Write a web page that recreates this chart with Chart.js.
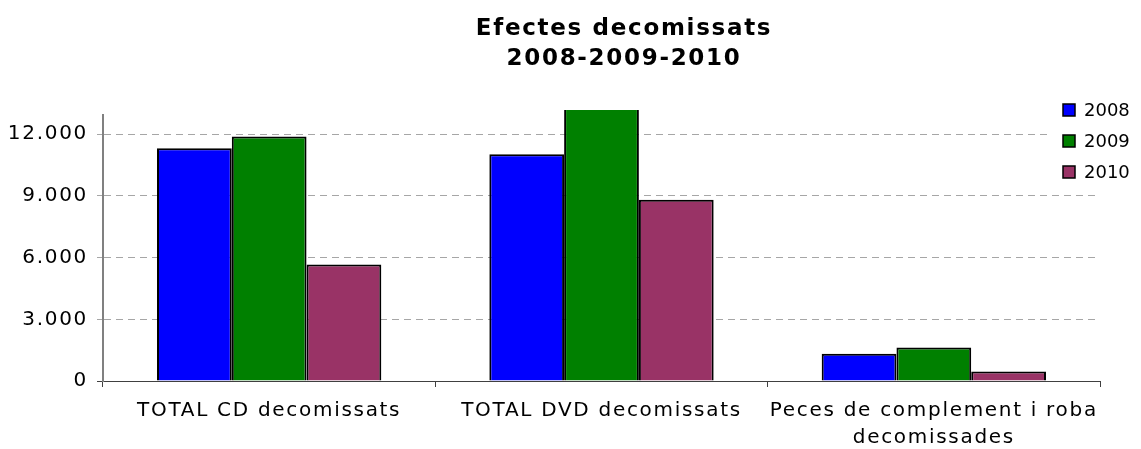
<!DOCTYPE html>
<html>
<head>
<meta charset="utf-8">
<script src="https://cdn.jsdelivr.net/npm/chart.js@4.4.0/dist/chart.umd.min.js"></script>
<style>
    body { margin: 0; background: #fff; }
    #wrap { width: 1141px; height: 449px; }
</style>
</head>
<body>
<div id="wrap"><canvas id="chart" width="1141" height="449"></canvas></div>
<script>
var categories = ['TOTAL CD decomissats', 'TOTAL DVD decomissats', ['Peces de complement i roba', 'decomissades']];
var years = ['2008', '2009', '2010'];
var values2008 = [11320, 11030, 1330];
var values2009 = [11890, 13400, 1625];
var values2010 = [5670, 8815, 460];
var titleLines = ['Efectes decomissats', '2008-2009-2010'];
var yTicks = [0, 3000, 6000, 9000, 12000];

var colors = ['#0000ff', '#008000', '#993366'];
var font = 'DejaVu Sans, Verdana, sans-serif';

function fmt(v) {
    // 12000 -> 12.000
    return String(v).replace(/\B(?=(\d{3})+(?!\d))/g, '.');
}

// title and legend drawn by hand so they sit where the original puts them
var decor = {
    id: 'decor',
    beforeDraw: function (chart) {
        chart.ctx.letterSpacing = '1.7px';
    },
    afterDraw: function (chart) {
        var ctx = chart.ctx;
        ctx.save();
        ctx.letterSpacing = '1.7px';
        ctx.fillStyle = '#000';
        ctx.textAlign = 'center';
        ctx.textBaseline = 'middle';
        ctx.font = 'bold 23px ' + font;
        for (var i = 0; i < titleLines.length; i++) {
            ctx.fillText(titleLines[i], 624, 29 + i * 30);
        }

        ctx.letterSpacing = '0px';
        ctx.fillStyle = '#fff';
        ctx.fillRect(1052, 94, 89, 92);
        ctx.font = '18px ' + font;
        ctx.textAlign = 'left';
        var ds = chart.data.datasets;
        for (var j = 0; j < ds.length; j++) {
            var y = 110 + j * 31;
            ctx.fillStyle = ds[j].backgroundColor;
            ctx.fillRect(1063, y - 6, 12, 12);
            ctx.lineWidth = 1.5;
            ctx.strokeStyle = '#000';
            ctx.strokeRect(1063, y - 6, 12, 12);
            ctx.fillStyle = '#000';
            ctx.fillText(ds[j].label, 1084, y + 1);
        }
        ctx.restore();
    }
};

var ctx = document.getElementById('chart');
var myChart = new Chart(ctx, {
    type: 'bar',
    data: {
        labels: categories,
        datasets: [values2008, values2009, values2010].map(function (vals, i) {
            return {
                label: years[i],
                data: vals,
                backgroundColor: colors[i],
                borderColor: '#000',
                borderWidth: 2,
                barPercentage: 1,
                categoryPercentage: 0.675,
                // the tallest bar runs a few px past the axis top, then gets cut
                clip: { left: false, top: 5, right: false, bottom: false }
            };
        })
    },
    options: {
        responsive: false,
        animation: false,
        layout: { padding: { top: 115, right: 41, left: 0, bottom: 0 } },
        plugins: {
            legend: { display: false },
            title: { display: false },
            tooltip: { enabled: false }
        },
        scales: {
            x: {
                afterFit: function (scale) { scale.height = 68; },
                grid: {
                    drawOnChartArea: false,
                    offset: true,
                    tickLength: 6,
                    color: '#404040'
                },
                border: { color: '#404040', width: 1 },
                ticks: {
                    color: '#000',
                    padding: 10,
                    maxRotation: 0,
                    font: { family: font, size: 20, lineHeight: 1.35 }
                }
            },
            y: {
                min: 0,
                max: 12938,
                afterFit: function (scale) { scale.width = 103; },
                afterBuildTicks: function (scale) {
                    scale.ticks = yTicks.map(function (v) { return { value: v }; });
                },
                grid: {
                    color: function (c) { return c.tick && c.tick.value === 0 ? '#404040' : '#a6a6a6'; },
                    tickColor: function (c) { return c.tick && c.tick.value === 0 ? '#404040' : '#a6a6a6'; },
                    tickBorderDash: [7, 5],
                    tickLength: 6,
                    lineWidth: 1
                },
                border: { color: '#808080', width: 2, dash: [7, 5] },
                ticks: {
                    color: '#000',
                    padding: 9,
                    font: { family: font, size: 20 },
                    callback: function (v) { return fmt(v); }
                }
            }
        }
    },
    plugins: [decor]
});
</script>
</body>
</html>
